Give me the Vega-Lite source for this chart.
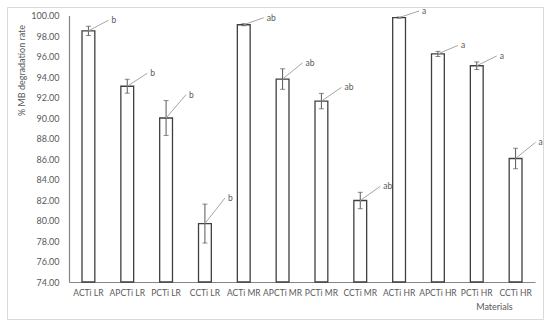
{
  "$schema": "https://vega.github.io/schema/vega-lite/v6.json",
  "width": 536,
  "height": 312,
  "autosize": {"type": "none"},
  "padding": {"left": 7, "top": 7, "right": 7, "bottom": 7},
  "background": "white",
  "config": {
    "view": {"stroke": "#d9d9d9", "strokeWidth": 1},
    "font": "Lato",
    "axis": {"labelFont": "Lato", "titleFont": "Lato", "labelColor": "#595959", "titleColor": "#595959", "titleFontWeight": "normal", "labelFontSize": 9, "titleFontSize": 9, "grid": false, "ticks": false, "domainColor": "#868686", "labelOverlap": false}
  },
  "data": {
    "values": [
      {"material": "ACTi LR", "mean": 98.5, "err": 0.45, "group": "b"},
      {"material": "APCTi LR", "mean": 93.1, "err": 0.68, "group": "b"},
      {"material": "PCTi LR", "mean": 90.0, "err": 1.7, "group": "b"},
      {"material": "CCTi LR", "mean": 79.7, "err": 1.9, "group": "b"},
      {"material": "ACTi MR", "mean": 99.1, "err": 0.1, "group": "ab"},
      {"material": "APCTi MR", "mean": 93.8, "err": 1.0, "group": "ab"},
      {"material": "PCTi MR", "mean": 91.65, "err": 0.75, "group": "ab"},
      {"material": "CCTi MR", "mean": 81.95, "err": 0.8, "group": "ab"},
      {"material": "ACTi HR", "mean": 99.8, "err": 0.05, "group": "a"},
      {"material": "APCTi HR", "mean": 96.25, "err": 0.25, "group": "a"},
      {"material": "PCTi HR", "mean": 95.1, "err": 0.37, "group": "a"},
      {"material": "CCTi HR", "mean": 86.05, "err": 1.0, "group": "a"}
    ]
  },
  "transform": [{"calculate": "datum.mean + datum.err", "as": "top"}],
  "encoding": {
    "x": {
      "field": "material", "type": "nominal", "sort": null,
      "scale": {"range": [62, 528], "paddingInner": 0.67, "paddingOuter": 0.335},
      "axis": {"title": "Materials", "labelAngle": 0, "labelFontSize": 8.5, "labelOverlap": false, "offset": -37, "labelPadding": 6, "titleX": 487, "titleY": 24, "titleAlign": "center", "titleBaseline": "middle", "domainWidth": 1.2}
    }
  },
  "layer": [
    {
      "mark": {"type": "bar", "fill": "white", "stroke": "#404040", "strokeWidth": 1.3},
      "encoding": {
        "y": {
          "field": "mean", "type": "quantitative", "title": "% MB degradation rate",
          "scale": {"domain": [74, 100], "range": [275, 8.5], "nice": false, "zero": false},
          "axis": {"format": ".2f", "values": [74, 76, 78, 80, 82, 84, 86, 88, 90, 92, 94, 96, 98, 100], "tickCount": 20, "labelOverlap": false, "labelFlush": false, "offset": -62, "labelPadding": 10, "titleX": -48, "titleY": 63, "titleAlign": "center", "titleBaseline": "middle", "domainWidth": 1.2}
        },
        "y2": {"datum": 74}
      }
    },
    {
      "mark": {"type": "errorbar", "ticks": {"size": 5, "color": "#595959"}, "rule": {"color": "#595959", "strokeWidth": 1}},
      "encoding": {
        "y": {"field": "mean", "type": "quantitative", "title": "% MB degradation rate"},
        "yError": {"field": "err"}
      }
    },
    {
      "mark": {"type": "rule", "color": "#a6a6a6", "strokeWidth": 1, "x2Offset": 20, "y2Offset": -6},
      "encoding": {
        "y": {"field": "mean", "type": "quantitative", "title": "% MB degradation rate"},
        "x2": {"field": "material"},
        "y2": {"field": "top"}
      }
    },
    {
      "mark": {"type": "text", "align": "left", "baseline": "middle", "dx": 23, "dy": -6, "fontSize": 8.5, "fill": "#595959", "font": "Lato"},
      "encoding": {
        "y": {"field": "top", "type": "quantitative", "title": "% MB degradation rate"},
        "text": {"field": "group"}
      }
    }
  ]
}
